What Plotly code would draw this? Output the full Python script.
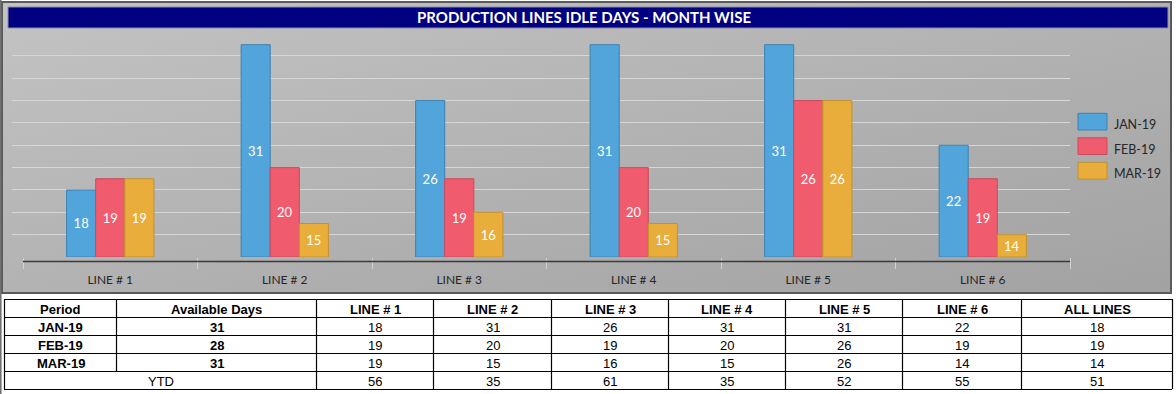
import base64
import plotly.graph_objects as go

# ---------------- data ----------------
title = "PRODUCTION LINES IDLE DAYS - MONTH WISE"
lines = ["LINE # 1", "LINE # 2", "LINE # 3", "LINE # 4", "LINE # 5", "LINE # 6"]
months = ["JAN-19", "FEB-19", "MAR-19"]
jan = [18, 31, 26, 31, 31, 22]
feb = [19, 20, 19, 20, 26, 19]
mar = [19, 15, 16, 15, 26, 14]
available_days = [31, 28, 31]
all_lines = [18, 19, 14]
ytd = [56, 35, 61, 35, 52, 55, 51]
table_header = ["Period", "Available Days"] + lines + ["ALL LINES"]

# ---------------- style ----------------
W, H = 1176, 394
AXIS_MIN, AXIS_MAX = 12, 32
fills = ["#52a5da", "#f15b6e", "#e9ad3b"]
edges = ["#3d82b2", "#c94a5b", "#c2902f"]
CH = "Lato"
TB = "Liberation Sans"


def px(x):
    return x / W


def py(y):
    return 1 - y / H


fig = go.Figure()
series = [jan, feb, mar]
for m, vals, fc, ec in zip(months, series, fills, edges):
    fig.add_trace(go.Bar(
        name=m, x=lines, y=[v - AXIS_MIN for v in vals], base=AXIS_MIN,
        text=[str(v) for v in vals], texttemplate="%{text}",
        textposition="inside", insidetextanchor="middle", textangle=0,
        textfont=dict(family=CH, size=13, color="white"),
        marker=dict(color=fc, line=dict(color=ec, width=1)),
        hoverinfo="skip", showlegend=False,
    ))

shapes = []
annotations = []

# chart frame
shapes.append(dict(type="rect", xref="paper", yref="paper", x0=px(2), x1=px(1171), y0=py(293), y1=py(2),
                   line=dict(color="#5a5a5a", width=2)))
shapes.append(dict(type="line", xref="paper", yref="paper", x0=px(0.8), x1=px(0.8), y0=py(0), y1=py(394),
                   line=dict(color="#6a6a6a", width=1.5)))
# title bar
shapes.append(dict(type="rect", xref="paper", yref="paper", x0=px(8), x1=px(1168), y0=py(28), y1=py(7),
                   fillcolor="#000080", line=dict(color="#8a8aa8", width=1)))
annotations.append(dict(text="<b>" + title + "</b>", xref="paper", yref="paper", x=px(584), y=py(17.5),
                        xanchor="center", yanchor="middle", showarrow=False,
                        font=dict(family=CH, size=15, color="white")))
# baseline
shapes.append(dict(type="line", xref="x", yref="paper", x0=-0.5, x1=5.5, y0=py(261.5), y1=py(261.5),
                   line=dict(color="#3a3a3a", width=1.5)))

# custom legend
for i, (m, fc, ec) in enumerate(zip(months, fills, edges)):
    top = 113.3 + i * 24.5
    shapes.append(dict(type="rect", xref="paper", yref="paper", x0=px(1078), x1=px(1107),
                       y0=py(top + 16.7), y1=py(top), fillcolor=fc, line=dict(color=ec, width=1)))
    annotations.append(dict(text=m, xref="paper", yref="paper", x=px(1112), y=py(top + 11.5),
                            xanchor="left", yanchor="middle", showarrow=False,
                            font=dict(family=CH, size=12.5, color="#262626")))

# ---------------- table ----------------
cols = [4, 116, 316, 433, 551, 668, 785, 902, 1021, 1172]
rows = [299, 317, 335, 353, 371, 389]
lc = dict(color="black", width=1.2)
for r in rows:
    shapes.append(dict(type="line", xref="paper", yref="paper", x0=px(cols[0]), x1=px(cols[-1]),
                       y0=py(r + 0.5), y1=py(r + 0.5), line=lc))
for j, c in enumerate(cols):
    bottom = rows[-2] if j == 1 else rows[-1]
    shapes.append(dict(type="line", xref="paper", yref="paper", x0=px(c + 0.5), x1=px(c + 0.5),
                       y0=py(rows[0]), y1=py(bottom), line=lc))


def cell(text, c0, c1, r, bold=False):
    annotations.append(dict(text=("<b>%s</b>" % text) if bold else str(text), xref="paper", yref="paper",
                            x=px((cols[c0] + cols[c1]) / 2 + 0.5), y=py((rows[r] + rows[r + 1]) / 2 + 1),
                            xanchor="center", yanchor="middle", showarrow=False,
                            font=dict(family=TB, size=13, color="black")))


for j, h in enumerate(table_header):
    cell(h, j, j + 1, 0, bold=True)
for i, m in enumerate(months):
    cell(m, 0, 1, i + 1, bold=True)
    cell(available_days[i], 1, 2, i + 1, bold=True)
    for k in range(len(lines)):
        cell(series[i][k], 2 + k, 3 + k, i + 1)
    cell(all_lines[i], 8, 9, i + 1)
cell("YTD", 0, 2, 4)
for k, v in enumerate(ytd):
    cell(v, 2 + k, 3 + k, 4)

# gradient background
svg = ('<svg xmlns="http://www.w3.org/2000/svg" width="1169" height="291" preserveAspectRatio="none">'
       '<defs><linearGradient id="g" x1="0" y1="0" x2="1" y2="1">'
       '<stop offset="0" stop-color="#c3c3c3"/><stop offset="1" stop-color="#a2a2a2"/>'
       '</linearGradient></defs><rect width="100%" height="100%" fill="url(#g)"/></svg>')
src = "data:image/svg+xml;base64," + base64.b64encode(svg.encode()).decode()

fig.update_layout(
    width=W, height=H, margin=dict(l=0, r=0, t=0, b=0),
    paper_bgcolor="white", plot_bgcolor="rgba(0,0,0,0)",
    barmode="group", bargap=0.5, bargroupgap=0,
    showlegend=False, shapes=shapes, annotations=annotations,
    images=[dict(source=src, xref="paper", yref="paper", x=px(3), y=py(3),
                 sizex=(1170 - 3) / W, sizey=(292 - 3) / H, xanchor="left", yanchor="top",
                 sizing="stretch", layer="below")],
    xaxis=dict(domain=[px(12), px(1070)], type="category", categoryorder="array", categoryarray=lines,
               range=[-0.5 - 11 / 174.5, 5.5], showgrid=False, zeroline=False, showline=False,
               ticks="outside", tickson="boundaries", ticklen=11, tickcolor="#d2d2d2", tickwidth=1,
               ticklabelstandoff=14, tickfont=dict(family=CH, size=12, color="#262626")),
    yaxis=dict(domain=[py(257), py(33.3)], range=[AXIS_MIN, AXIS_MAX + 0.02], dtick=2, tick0=AXIS_MIN,
               showticklabels=False, showgrid=True, gridcolor="#d6d6d6", gridwidth=1.3,
               zeroline=False, showline=False, ticks=""),
)

fig.write_html("out.html", config={"displayModeBar": False},
               post_script="document.body.style.margin='0';document.body.style.overflow='hidden';")
